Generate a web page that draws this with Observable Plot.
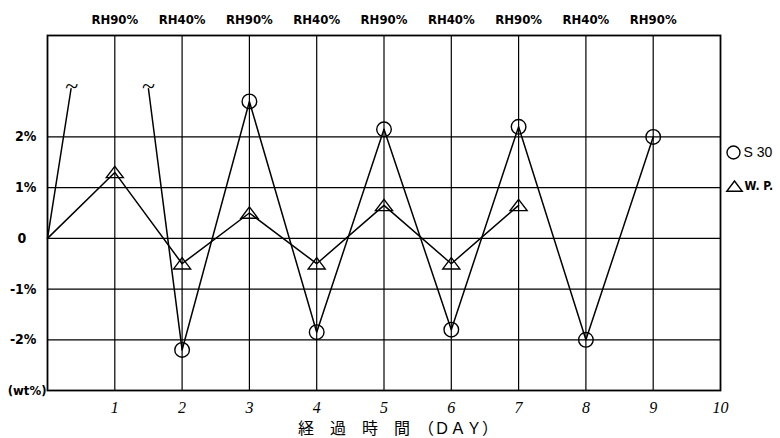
<!DOCTYPE html>
<html>
<head>
<meta charset="utf-8">
<script src="https://cdn.jsdelivr.net/npm/d3@7"></script>
<script src="https://cdn.jsdelivr.net/npm/@observablehq/plot@0.6"></script>
<style>
  body { margin: 0; background: #fff; }
  svg { font-family: "DejaVu Sans Condensed", "DejaVu Sans", sans-serif; }
</style>
</head>
<body>
<div id="chart"></div>
<script>
// Days
const days = [0, 1, 2, 3, 4, 5, 6, 7, 8, 9];
// S30 (wt%) — day 1 off scale (broken line marked with "~")
const s30Head = [{day: 0, v: 0}, {day: 0.35, v: 2.95}];
const s30Days = [1.5, 2, 3, 4, 5, 6, 7, 8, 9];
const s30Vals = [2.95, -2.2, 2.7, -1.85, 2.15, -1.8, 2.2, -2.0, 2.0];
const s30Marker = [2, 3, 4, 5, 6, 7, 8, 9];
const breaks = [{day: 0.36, v: 3.0}, {day: 1.5, v: 3.0}];
// W.P. (wt%)
const wpDays = [0, 1, 2, 3, 4, 5, 6, 7];
const wpVals = [0, 1.3, -0.5, 0.5, -0.5, 0.65, -0.5, 0.65];
// Top labels
const rhDays = [1, 2, 3, 4, 5, 6, 7, 8, 9];
const rhLabels = ["RH90%", "RH40%", "RH90%", "RH40%", "RH90%", "RH40%", "RH90%", "RH40%", "RH90%"];
// Axis ticks
const xTicks = [1, 2, 3, 4, 5, 6, 7, 8, 9, 10];
const yGrid = [-2, -1, 0, 1, 2];
const yPctTicks = [-2, -1, 1, 2];
const legendLabels = ["S 30", "W. P."];
const xTitle = "経　過　時　間　（ＤＡＹ）";

const s30 = s30Days.map((d, i) => ({day: d, v: s30Vals[i]}));
const s30Pts = s30.filter(d => s30Marker.includes(d.day));
const wp = wpDays.map((d, i) => ({day: d, v: wpVals[i]}));

// flat open triangle like the original
const flatTriangle = {
  draw(context, size) {
    const r = Math.sqrt(size / Math.PI);
    const hw = r * 1.55, top = -r * 1.1, bot = r * 0.95;
    context.moveTo(0, top);
    context.lineTo(hw, bot);
    context.lineTo(-hw, bot);
    context.closePath();
  }
};

const plot = Plot.plot({
  width: 780,
  height: 438,
  marginLeft: 47,
  marginRight: 60,
  marginTop: 35,
  marginBottom: 48,
  x: {domain: [0, 10], axis: null},
  y: {domain: [-3, 4], axis: null},
  marks: [
    Plot.gridX(rhDays, {stroke: "#000", strokeOpacity: 1, strokeWidth: 1.2}),
    Plot.gridY(yGrid, {stroke: "#000", strokeOpacity: 1, strokeWidth: 1.2}),
    Plot.frame({stroke: "#000", strokeWidth: 1.8}),
    Plot.line(s30Head, {x: "day", y: "v", stroke: "#000", strokeWidth: 1.5}),
    Plot.line(s30, {x: "day", y: "v", stroke: "#000", strokeWidth: 1.5}),
    Plot.line(wp, {x: "day", y: "v", stroke: "#000", strokeWidth: 1.5}),
    Plot.text(breaks, {x: "day", y: "v", text: () => "~", fontSize: 24, fontFamily: "Liberation Serif", fill: "#000"}),
    Plot.dot(s30Pts, {x: "day", y: "v", r: 7.3, stroke: "#000", strokeWidth: 1.4, fill: "none"}),
    Plot.dot(wp.filter(d => d.day > 0), {x: "day", y: "v", symbol: flatTriangle, r: 5.5, stroke: "#000", strokeWidth: 1.4, fill: "none"}),
    // top RH labels
    Plot.text(rhDays, {x: d => d, y: () => 4, text: (d, i) => rhLabels[i], dy: -16, fontSize: 13, fontWeight: "bold", fill: "#000", lineAnchor: "middle", letterSpacing: "1px"}),
    // x tick labels
    Plot.text(xTicks, {x: d => d, y: () => -3, text: d => String(d), dy: 17, fontSize: 16, fontFamily: "Liberation Serif", fontStyle: "italic", fill: "#000", lineAnchor: "middle"}),
    // y tick labels
    Plot.text(yPctTicks, {x: () => 0, y: d => d, text: d => (d < 0 ? "-" : "") + Math.abs(d) + "%", textAnchor: "end", dx: -11, fontSize: 14, fontWeight: "bold", fill: "#000"}),
    Plot.text([0], {x: () => 0, y: d => d, text: () => "0", textAnchor: "start", dx: -30, fontSize: 14, fontWeight: "bold", fill: "#000"}),
    Plot.text([-3], {x: () => 0, y: d => d, text: () => "(wt%)", textAnchor: "end", dx: -1, fontSize: 13, fontWeight: "bold", fill: "#000"}),
    // x title
    Plot.text([xTitle], {frameAnchor: "bottom", text: d => d, lineAnchor: "middle", dy: 38, dx: 14, fontSize: 16, fontFamily: "Noto Sans CJK JP", fill: "#000", letterSpacing: "2px"}),
    // legend
    Plot.dot([legendLabels[0]], {frameAnchor: "top-right", dx: 13, dy: 117, r: 6.5, stroke: "#000", strokeWidth: 1.4, fill: "none"}),
    Plot.text([legendLabels[0]], {frameAnchor: "top-right", text: d => d, textAnchor: "start", lineAnchor: "middle", dx: 23, dy: 117, fontSize: 14, fontFamily: "Liberation Sans", fill: "#000"}),
    Plot.dot([legendLabels[1]], {frameAnchor: "top-right", symbol: flatTriangle, dx: 14, dy: 151, r: 5, stroke: "#000", strokeWidth: 1.4, fill: "none"}),
    Plot.text([legendLabels[1]], {frameAnchor: "top-right", text: d => d, textAnchor: "start", lineAnchor: "middle", dx: 24, dy: 151, fontSize: 12, fontWeight: "bold", fill: "#000"})
  ]
});
document.getElementById("chart").appendChild(plot);
</script>
</body>
</html>
